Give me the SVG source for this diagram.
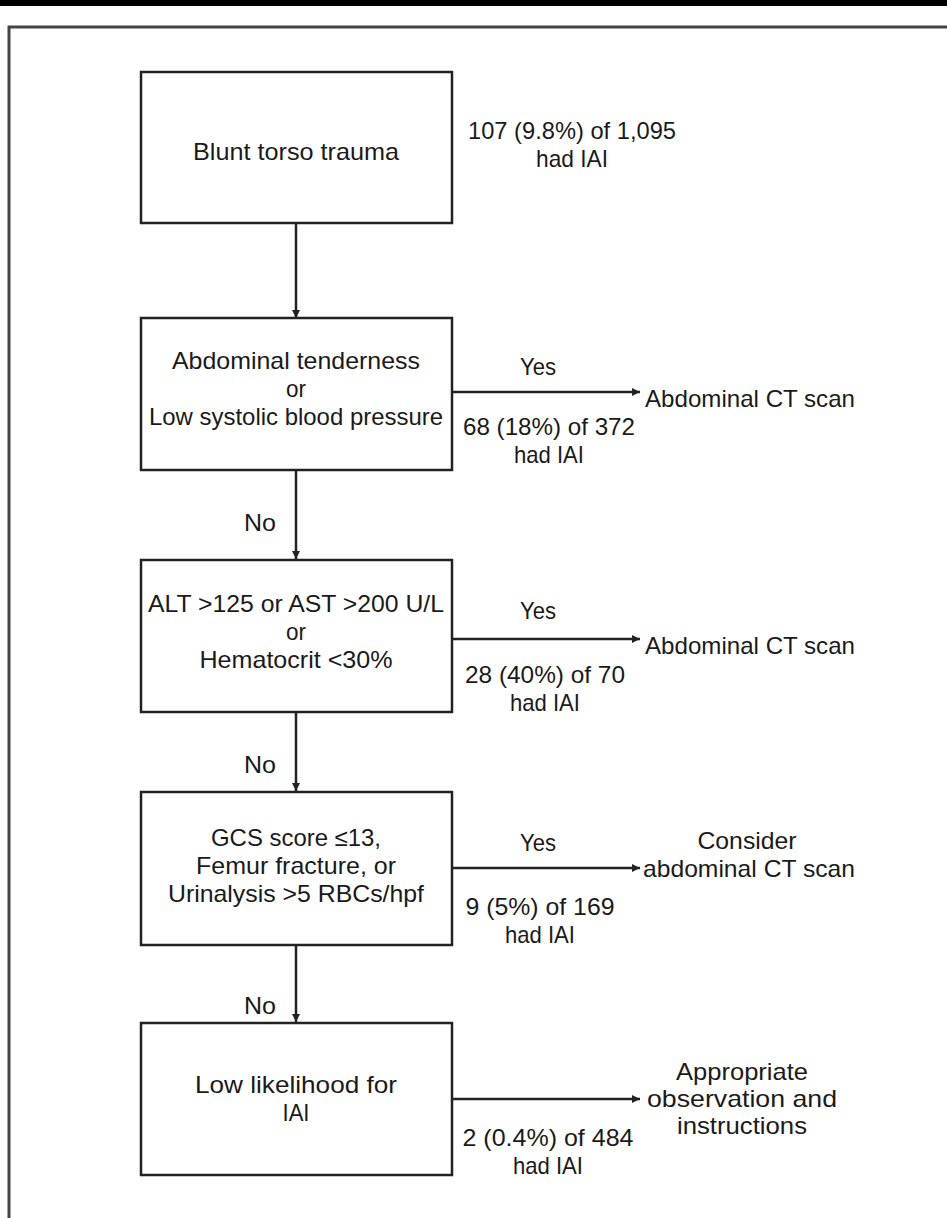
<svg xmlns="http://www.w3.org/2000/svg" width="947" height="1218" viewBox="0 0 947 1218">
<style>
.bx{fill:#fff;stroke:#222;stroke-width:2.5}
.ln{stroke:#222;stroke-width:2.5;fill:none}
text{font-family:"Liberation Sans",Arial,sans-serif;font-size:24px;fill:#1a1a1a;text-anchor:middle}
.l{text-anchor:start}
</style>
<defs>
<marker id="ah" viewBox="0 0 10 10" refX="10" refY="5" markerWidth="9" markerHeight="8" markerUnits="userSpaceOnUse" orient="auto">
<path d="M0,0 L10,5 L0,10 z" fill="#222"/>
</marker>
</defs>
<rect x="0" y="0" width="947" height="1218" fill="#fff"/>
<rect x="0" y="0" width="947" height="6" fill="#000"/>
<path d="M9,1218 V27 H947" fill="none" stroke="#444" stroke-width="3"/>
<g id="connectors">
<line class="ln" x1="296" y1="223" x2="296" y2="318" marker-end="url(#ah)"/>
<line class="ln" x1="296" y1="470" x2="296" y2="559" marker-end="url(#ah)"/>
<line class="ln" x1="296" y1="712" x2="296" y2="791" marker-end="url(#ah)"/>
<line class="ln" x1="296" y1="945" x2="296" y2="1022" marker-end="url(#ah)"/>
<line class="ln" x1="452" y1="392" x2="640" y2="392" marker-end="url(#ah)"/>
<line class="ln" x1="452" y1="639" x2="640" y2="639" marker-end="url(#ah)"/>
<line class="ln" x1="452" y1="868" x2="640" y2="868" marker-end="url(#ah)"/>
<line class="ln" x1="452" y1="1099" x2="640" y2="1099" marker-end="url(#ah)"/>
<text x="538" y="375" textLength="36" lengthAdjust="spacingAndGlyphs">Yes</text>
<text x="538" y="619" textLength="36" lengthAdjust="spacingAndGlyphs">Yes</text>
<text x="538" y="851" textLength="36" lengthAdjust="spacingAndGlyphs">Yes</text>
<text x="260" y="531" textLength="32" lengthAdjust="spacingAndGlyphs">No</text>
<text x="260" y="773" textLength="32" lengthAdjust="spacingAndGlyphs">No</text>
<text x="260" y="1014" textLength="32" lengthAdjust="spacingAndGlyphs">No</text>
</g>
<g id="n1">
<rect class="bx" x="141" y="72" width="311" height="151"/>
<text x="296" y="160" textLength="206" lengthAdjust="spacingAndGlyphs">Blunt torso trauma</text>
</g>
<g id="n1stat">
<text x="572" y="139" textLength="208" lengthAdjust="spacingAndGlyphs">107 (9.8%) of 1,095</text>
<text x="572" y="167" textLength="72" lengthAdjust="spacingAndGlyphs">had IAI</text>
</g>
<g id="n2">
<rect class="bx" x="141" y="318" width="311" height="152"/>
<text x="296" y="369" textLength="248" lengthAdjust="spacingAndGlyphs">Abdominal tenderness</text>
<text x="296" y="397" textLength="20" lengthAdjust="spacingAndGlyphs">or</text>
<text x="296" y="425" textLength="294" lengthAdjust="spacingAndGlyphs">Low systolic blood pressure</text>
</g>
<g id="n2out">
<text class="l" x="645" y="407" textLength="210" lengthAdjust="spacingAndGlyphs">Abdominal CT scan</text>
</g>
<g id="n2stat">
<text x="549" y="435" textLength="172" lengthAdjust="spacingAndGlyphs">68 (18%) of 372</text>
<text x="549" y="463" textLength="70" lengthAdjust="spacingAndGlyphs">had IAI</text>
</g>
<g id="n3">
<rect class="bx" x="141" y="560" width="311" height="152"/>
<text x="296" y="612" textLength="296" lengthAdjust="spacingAndGlyphs">ALT &gt;125 or AST &gt;200 U/L</text>
<text x="296" y="640" textLength="20" lengthAdjust="spacingAndGlyphs">or</text>
<text x="296" y="668" textLength="193" lengthAdjust="spacingAndGlyphs">Hematocrit &lt;30%</text>
</g>
<g id="n3out">
<text class="l" x="645" y="654" textLength="210" lengthAdjust="spacingAndGlyphs">Abdominal CT scan</text>
</g>
<g id="n3stat">
<text x="545" y="683" textLength="160" lengthAdjust="spacingAndGlyphs">28 (40%) of 70</text>
<text x="545" y="711" textLength="70" lengthAdjust="spacingAndGlyphs">had IAI</text>
</g>
<g id="n4">
<rect class="bx" x="141" y="792" width="311" height="153"/>
<text x="296" y="846" textLength="170" lengthAdjust="spacingAndGlyphs">GCS score ≤13,</text>
<text x="296" y="874" textLength="200" lengthAdjust="spacingAndGlyphs">Femur fracture, or</text>
<text x="296" y="902" textLength="256" lengthAdjust="spacingAndGlyphs">Urinalysis &gt;5 RBCs/hpf</text>
</g>
<g id="n4out">
<text x="747" y="849" textLength="99" lengthAdjust="spacingAndGlyphs">Consider</text>
<text x="749" y="877" textLength="212" lengthAdjust="spacingAndGlyphs">abdominal CT scan</text>
</g>
<g id="n4stat">
<text x="540" y="915" textLength="149" lengthAdjust="spacingAndGlyphs">9 (5%) of 169</text>
<text x="540" y="943" textLength="70" lengthAdjust="spacingAndGlyphs">had IAI</text>
</g>
<g id="n5">
<rect class="bx" x="141" y="1023" width="311" height="152"/>
<text x="296" y="1093" textLength="202" lengthAdjust="spacingAndGlyphs">Low likelihood for</text>
<text x="296" y="1121" textLength="27" lengthAdjust="spacingAndGlyphs">IAI</text>
</g>
<g id="n5out">
<text x="742" y="1080" textLength="132" lengthAdjust="spacingAndGlyphs">Appropriate</text>
<text x="742" y="1107" textLength="190" lengthAdjust="spacingAndGlyphs">observation and</text>
<text x="742" y="1134" textLength="130" lengthAdjust="spacingAndGlyphs">instructions</text>
</g>
<g id="n5stat">
<text x="548" y="1146" textLength="171" lengthAdjust="spacingAndGlyphs">2 (0.4%) of 484</text>
<text x="548" y="1174" textLength="70" lengthAdjust="spacingAndGlyphs">had IAI</text>
</g>
</svg>
